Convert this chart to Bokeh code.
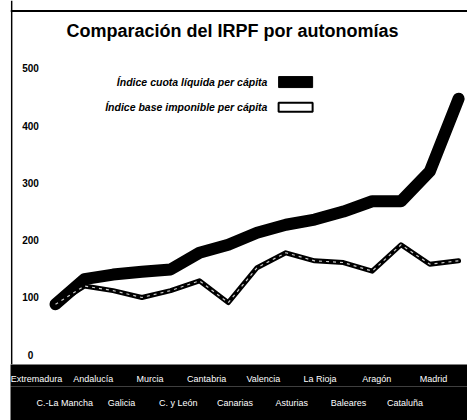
from bokeh.plotting import figure
from bokeh.models import Range1d, LinearAxis, FixedTicker, Label, Span
from bokeh.core.properties import value
from bokeh.embed import file_html
from bokeh.resources import INLINE

# ---- data ----
regions = ["Extremadura", "C.-La Mancha", "Andalucía", "Galicia", "Murcia",
           "C. y León", "Cantabria", "Canarias", "Valencia", "Asturias",
           "La Rioja", "Baleares", "Aragón", "Cataluña", "Madrid"]
cuota = [88, 132, 140, 145, 149, 178, 192, 213, 227, 236, 250, 268, 268, 320, 447]
base = [88, 120, 112, 100, 112, 129, 91, 152, 178, 164, 161, 146, 192, 158, 164]
y_ticks = [0, 100, 200, 300, 400, 500]
legend_labels = ["Índice cuota líquida per cápita", "Índice base imponible per cápita"]
title_text = "Comparación del IRPF por autonomías"

idx = list(range(len(regions)))

X_START, X_END = -1.563, 14.31
Y_START, Y_END = -17, 618.4
BOX_TOP = 600

p = figure(width=467, height=420, output_backend="svg", toolbar_location=None,
           x_range=Range1d(X_START, X_END), y_range=Range1d(Y_START, Y_END),
           min_border_left=10, min_border_top=0, min_border_right=0, min_border_bottom=0,
           x_axis_location=None, y_axis_location=None)
p.grid.visible = False
p.outline_line_color = None
p.background_fill_color = "white"
p.border_fill_color = "white"

# box borders (top, left)
p.add_layout(Span(location=BOX_TOP, dimension="width", line_color="black", line_width=2))
p.add_layout(Span(location=X_START + 0.04, dimension="height", line_color="black", line_width=1.5))

# category labels: two rows in a black band
p.extra_x_ranges = {"labels": Range1d(-0.917, 15.2)}
top_ticks = [i for i in idx if i % 2 == 0]
bot_ticks = [i for i in idx if i % 2 == 1]

def make_axis(ticks, standoff):
    ax = LinearAxis(x_range_name="labels", ticker=FixedTicker(ticks=ticks, minor_ticks=[]),
                    major_label_overrides={t: regions[t] for t in ticks})
    ax.axis_line_color = None
    ax.major_tick_line_color = None
    ax.major_tick_in = 0
    ax.major_tick_out = 0
    ax.minor_tick_line_color = None
    ax.minor_tick_in = 0
    ax.minor_tick_out = 0
    ax.major_label_text_color = "white"
    ax.major_label_text_font = "Liberation Sans"
    ax.major_label_text_font_size = "9px"
    ax.major_label_standoff = standoff
    ax.background_fill_color = "black"
    return ax

ax1 = make_axis(top_ticks, 9)
ax2 = make_axis(bot_ticks, 11)
ax2.axis_label = " "
ax2.axis_label_text_font_size = "2px"
ax2.axis_label_standoff = 5
p.add_layout(ax1, "below")
p.add_layout(ax2, "below")

# lines
p.line(idx, cuota, line_width=12, line_color="black", line_join="round", line_cap="round")
p.line(idx, base, line_width=5, line_color="black", line_join="round", line_cap="round")
p.line(idx, base, line_width=1.2, line_color="white", line_dash="3 4", line_alpha=0.8)

# y tick labels
p.text(x=[X_START] * len(y_ticks), y=y_ticks, text=[str(t) for t in y_ticks],
       x_offset=20, text_align="center", text_baseline="middle",
       text_font=value("Liberation Sans"), text_font_style="bold",
       text_font_size="10px", text_color="black")

# title
p.add_layout(Label(x=6.15, y=566, text=title_text, text_align="center",
                   text_baseline="middle", text_font="Liberation Sans",
                   text_font_style="bold", text_font_size="18px", text_color="black"))

# legend (label then swatch)
leg_y = [476, 432]
p.text(x=[7.36, 7.36], y=leg_y, text=legend_labels, text_align="right",
       text_baseline="middle", text_font=value("Liberation Sans"),
       text_font_style="bold italic", text_font_size="10.5px", text_color="black")
p.rect(x=[8.34], y=[leg_y[0]], width=34, height=11, width_units="screen",
       height_units="screen", fill_color="black", line_color="black")
p.rect(x=[8.34], y=[leg_y[1]], width=34, height=9, width_units="screen",
       height_units="screen", fill_color="white", line_color="black", line_width=2)

open("out.html", "w").write(file_html(p, INLINE))
